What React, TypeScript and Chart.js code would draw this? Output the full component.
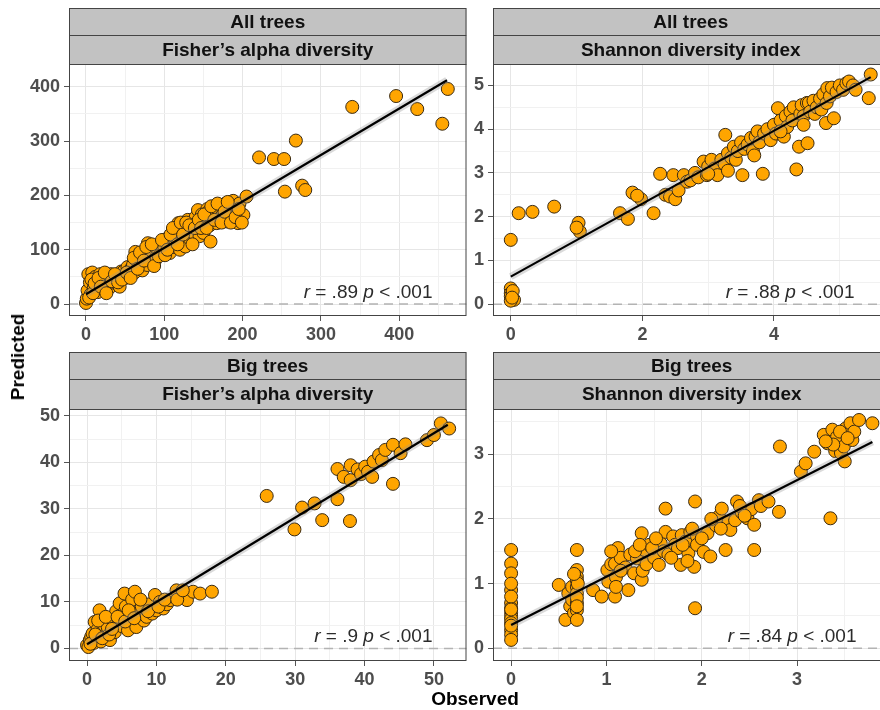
import React, { useEffect, useRef } from 'react';
import { Chart, registerables } from 'chart.js';

Chart.register(...registerables);

const FONT = 'Arial, "Liberation Sans", Helvetica, sans-serif';

// ---------- DATA ----------
const stripTop = ['All trees', 'All trees', 'Big trees', 'Big trees'];
const stripBottom = ["Fisher\u2019s alpha diversity", 'Shannon diversity index', "Fisher\u2019s alpha diversity", 'Shannon diversity index'];
const rValues = ['.89', '.88', '.9', '.84'];
const pTexts = ['< .001', '< .001', '< .001', '< .001'];

// All trees, Fisher's alpha: [observed, predicted]
const allFisherPoints: [number, number][] = [
  [0, 2], [1, 10], [2, 25], [3, 55], [5, 40], [6, 18], [8, 58], [10, 30], [12, 50], [14, 35], [15, 22], [18, 55],
  [20, 45], [22, 28], [25, 40], [28, 52], [30, 30], [32, 55], [35, 44], [38, 38], [40, 50], [43, 32], [45, 60],
  [48, 60], [50, 48], [53, 68], [55, 55], [58, 66], [60, 72], [62, 58], [63, 96], [65, 80], [67, 87], [70, 75],
  [72, 62], [75, 90], [78, 72], [79, 112], [80, 100], [82, 85], [85, 95], [88, 80], [90, 87], [92, 100], [95, 109],
  [98, 92], [100, 105], [103, 120], [105, 115], [107, 94], [110, 125], [112, 105], [114, 140], [116, 131],
  [118, 149], [120, 100], [122, 118], [125, 140], [127, 106], [129, 136], [130, 155], [133, 120], [135, 150],
  [138, 130], [140, 160], [142, 142], [143, 173], [145, 125], [148, 165], [150, 131], [152, 150], [155, 175],
  [156, 170], [158, 145], [159, 115], [162, 160], [165, 178], [167, 149], [169, 173], [172, 160], [175, 165],
  [178, 185], [180, 152], [182, 170], [184, 182], [186, 160], [188, 190], [190, 175], [193, 167], [194, 149],
  [196, 185], [198, 160], [201, 164], [205, 198],
  [4, 12], [7, 45], [9, 20], [11, 38], [16, 48], [19, 32], [24, 58], [26, 20], [33, 42], [37, 55], [41, 40],
  [46, 45], [52, 58], [57, 48], [61, 85], [66, 65], [69, 95], [74, 80], [77, 105], [84, 110], [87, 70], [93, 88],
  [97, 118], [101, 90], [104, 100], [108, 128], [111, 140], [117, 110], [121, 150], [124, 128], [128, 150],
  [132, 145], [136, 110], [139, 140], [144, 155], [147, 140], [151, 165], [154, 140], [160, 180], [164, 155],
  [168, 185], [173, 150], [177, 170], [181, 188], [185, 150], [191, 160], [195, 175], [199, 150],
  [221, 270], [240, 267], [253, 267], [268, 301], [254, 207], [276, 218], [280, 210],
  [340, 363], [396, 383], [423, 359], [455, 332], [462, 396],
];
const allFisherFitX = [0, 461];
const allFisherFitY = [18, 412];

// All trees, Shannon index
const allShannonPoints: [number, number][] = [
  [0, 1.47], [0, 0.36], [0, 0.25], [0, 0.18], [0.05, 0.1], [0, 0.08], [0.03, 0.3], [0.02, 0.15],
  [0.12, 2.08], [0.33, 2.11], [0.66, 2.23], [1.03, 1.86], [1.05, 1.66], [1.0, 1.75],
  [1.66, 2.08], [1.78, 1.95], [1.85, 2.55], [1.98, 2.4], [1.92, 2.48], [2.17, 2.08],
  [2.27, 2.98], [2.35, 2.5], [2.42, 2.46], [2.47, 2.95], [2.5, 2.4], [2.55, 2.6], [2.63, 2.95], [2.68, 2.8],
  [2.73, 2.83], [2.8, 3.0], [2.85, 2.9], [2.93, 3.26], [2.98, 2.95], [3.0, 3.15], [3.05, 3.3], [3.1, 3.1],
  [3.14, 2.95], [3.2, 3.3], [3.26, 3.87], [3.25, 3.2], [3.3, 3.45], [3.35, 3.35], [3.39, 3.6], [3.42, 3.3],
  [3.45, 3.5], [3.5, 3.7], [3.52, 2.95], [3.55, 3.55], [3.6, 3.65], [3.65, 3.8], [3.68, 3.5], [3.72, 3.83],
  [3.75, 3.95], [3.78, 3.7], [3.83, 2.98], [3.85, 3.9], [3.9, 4.0], [3.95, 3.75], [4.0, 4.1], [4.03, 3.9],
  [4.06, 4.48], [4.1, 4.2], [4.15, 3.83], [4.18, 4.3], [4.2, 4.05], [4.25, 4.4], [4.28, 4.2], [4.3, 4.5],
  [4.34, 3.08], [4.38, 3.6], [4.4, 4.35], [4.42, 4.55], [4.45, 4.3], [4.5, 4.6], [4.51, 3.68], [4.53, 4.6],
  [4.55, 4.4], [4.6, 4.65], [4.62, 4.35], [4.65, 4.5], [4.7, 4.7], [4.72, 4.45], [4.75, 4.8], [4.79, 4.14],
  [4.8, 4.6], [4.81, 4.94], [4.85, 4.75], [4.88, 4.95], [4.91, 4.25], [4.95, 4.85], [5.0, 5.0], [5.05, 4.9],
  [5.1, 5.05], [5.14, 5.09], [5.2, 5.0], [5.24, 4.9], [5.44, 4.71], [5.47, 5.25],
  [3.0, 2.98], [3.3, 3.05], [3.7, 3.4], [4.1, 3.95], [4.45, 4.1],
];
const allShannonFitX = [0, 5.47];
const allShannonFitY = [0.63, 5.19];

// Big trees, Fisher's alpha
const bigFisherPoints: [number, number][] = [
  [0, 0.7], [0.2, 0.3], [0.4, 1.8], [0.6, 2.5], [0.8, 3.2], [1.0, 1.2], [1.1, 5.7], [1.3, 2.0], [1.5, 4.0],
  [1.8, 8.2], [1.9, 3.0], [2.0, 1.5], [2.3, 3.6], [2.5, 5.0], [2.8, 2.5], [3.0, 4.5], [3.3, 1.8], [3.5, 6.5],
  [3.8, 6.1], [4.0, 3.5], [4.2, 8.0], [4.5, 5.2], [4.7, 9.7], [5.0, 4.8], [5.2, 7.5], [5.4, 11.8], [5.6, 9.0],
  [5.9, 3.9], [6.2, 6.5], [6.5, 10.5], [6.9, 12.2], [7.1, 4.6], [7.4, 8.0], [7.9, 9.0], [8.2, 6.0], [8.6, 6.8],
  [9.0, 9.5], [9.4, 7.5], [9.8, 11.5], [10.0, 8.2], [10.5, 10.0], [11.0, 8.6], [11.5, 9.5], [12.0, 10.4],
  [12.9, 12.5], [13.5, 11.0], [14.1, 12.2], [14.4, 10.4], [15.3, 12.2], [16.3, 11.8], [18.0, 12.2],
  [0.5, 1.0], [1.2, 3.0], [1.6, 6.0], [2.2, 2.2], [2.7, 6.8], [3.2, 3.0], [3.6, 4.2], [4.4, 6.8], [5.5, 5.8],
  [6.0, 8.2], [6.8, 6.5], [7.7, 10.5], [8.8, 8.0], [10.3, 9.0], [11.2, 10.5], [13.0, 10.5], [13.8, 12.5],
  [25.9, 32.8], [29.9, 25.6], [31.0, 30.3], [32.8, 31.2], [33.9, 27.6], [36.1, 32.1], [37.9, 27.4],
  [36.1, 38.6], [37.0, 36.9], [38.0, 39.4], [38.0, 36.2], [39.0, 38.5], [39.5, 37.5], [40.1, 39.1],
  [40.5, 38.0], [41.1, 36.9], [41.3, 40.2], [42.1, 41.6], [42.5, 40.5], [43.0, 42.7], [44.1, 43.8],
  [44.1, 35.4], [45.2, 42.0], [45.9, 43.9], [49.0, 44.8], [50.0, 45.9], [51.0, 48.4], [52.2, 47.3],
];
const bigFisherFitX = [0, 52];
const bigFisherFitY = [0.9, 48.1];

// Big trees, Shannon index
const bigShannonPoints: [number, number][] = [
  [0, 1.52], [0, 1.31], [0, 1.16], [0, 0.9], [0, 0.7], [0, 0.62], [0, 0.55], [0, 0.49], [0, 0.45], [0, 0.39],
  [0, 0.28], [0, 0.21], [0, 0.13], [0, 0.8], [0, 1.0], [0, 0.35], [0, 0.6],
  [0.5, 0.98], [0.57, 0.44], [0.6, 0.85], [0.62, 0.65], [0.64, 0.75], [0.64, 0.95], [0.66, 0.55], [0.69, 1.52],
  [0.69, 1.21], [0.69, 1.11], [0.69, 1.05], [0.69, 0.95], [0.69, 0.85], [0.69, 0.7], [0.69, 0.59], [0.69, 0.44],
  [0.7, 1.0], [0.69, 0.78], [0.69, 0.65], [0.66, 1.15],
  [0.86, 0.9], [0.95, 0.8], [1.01, 1.21], [1.02, 1.03], [1.05, 1.3], [1.09, 0.8], [1.09, 1.47], [1.09, 1.31],
  [1.1, 1.1], [1.12, 1.55], [1.15, 1.4], [1.2, 1.25], [1.23, 0.9], [1.25, 1.45], [1.29, 1.16], [1.32, 1.39],
  [1.37, 1.06], [1.37, 1.78], [1.38, 1.2], [1.4, 1.52], [1.42, 1.3], [1.45, 1.6], [1.5, 1.4], [1.55, 1.29],
  [1.57, 1.62], [1.6, 1.5], [1.62, 2.16], [1.62, 1.8], [1.65, 1.45], [1.7, 1.73], [1.72, 1.6], [1.75, 1.55],
  [1.78, 1.29], [1.79, 1.75], [1.83, 1.65], [1.86, 1.47], [1.88, 1.8], [1.92, 1.26], [1.93, 2.27], [1.93, 0.62],
  [1.95, 1.73], [1.95, 1.6], [2.02, 1.49], [2.06, 1.78], [2.09, 1.42], [2.15, 1.9], [2.18, 2.04], [2.21, 2.16],
  [2.25, 1.52], [2.28, 1.95], [2.3, 1.83], [2.35, 1.98], [2.37, 2.27], [2.42, 2.1], [2.48, 2.01], [2.52, 2.15],
  [2.55, 1.91], [2.55, 1.52], [2.6, 2.29], [2.62, 2.2], [2.7, 2.27], [2.81, 2.11], [2.82, 3.12],
  [1.05, 1.5], [1.1, 0.95], [1.15, 1.2], [1.3, 1.5], [1.35, 1.6], [1.48, 1.55], [1.52, 1.7], [1.68, 1.4],
  [1.8, 1.6], [1.85, 1.35], [1.9, 1.85], [2.0, 1.7], [2.1, 2.0], [2.2, 1.85], [2.4, 2.2], [2.45, 2.05],
  [3.04, 2.73], [3.09, 2.86], [3.18, 3.04], [3.28, 3.3], [3.32, 3.17], [3.35, 2.01], [3.37, 3.38], [3.4, 3.05],
  [3.42, 3.27], [3.46, 3.02], [3.49, 3.12], [3.5, 2.89], [3.51, 3.4], [3.56, 3.48], [3.58, 3.22], [3.6, 3.35],
  [3.65, 3.53], [3.79, 3.48], [3.45, 3.35], [3.38, 3.15], [3.53, 3.25], [3.3, 3.2],
];
const bigShannonFitX = [0, 3.79];
const bigShannonFitY = [0.36, 3.19];

// axis ranges and ticks
const xRanges: [number, number][] = [[-21.7, 485.9], [-0.27, 5.74], [-2.6, 54.7], [-0.19, 3.98]];
const yRanges: [number, number][] = [[-22, 442], [-0.27, 5.49], [-2.7, 51.5], [-0.196, 3.7]];
const xMajor = [[0, 100, 200, 300, 400], [0, 2, 4], [0, 10, 20, 30, 40, 50], [0, 1, 2, 3]];
const xMinor = [[50, 150, 250, 350, 450], [1, 3, 5], [5, 15, 25, 35, 45], [0.5, 1.5, 2.5, 3.5]];
const yMajor = [[0, 100, 200, 300, 400], [0, 1, 2, 3, 4, 5], [0, 10, 20, 30, 40, 50], [0, 1, 2, 3]];
const yMinor = [[50, 150, 250, 350], [0.5, 1.5, 2.5, 3.5, 4.5], [5, 15, 25, 35, 45], [0.5, 1.5, 2.5, 3.5]];

const pointSets = [allFisherPoints, allShannonPoints, bigFisherPoints, bigShannonPoints];
const fitXs = [allFisherFitX, allShannonFitX, bigFisherFitX, bigShannonFitX];
const fitYs = [allFisherFitY, allShannonFitY, bigFisherFitY, bigShannonFitY];

// ---------- LAYOUT ----------
const panelBoxes = [
  { left: 10, top: 8, width: 464, height: 338, yAxisW: 59, padTop: 56 },
  { left: 445, top: 8, width: 451, height: 338, yAxisW: 48, padTop: 56 },
  { left: 10, top: 352, width: 464, height: 339, yAxisW: 59, padTop: 57 },
  { left: 445, top: 352, width: 453, height: 339, yAxisW: 48, padTop: 57 },
];

const panelPlugin = {
  id: 'panelDeco',
  beforeDatasetsDraw(chart: any) {
    const { ctx, chartArea: a, scales } = chart;
    const y0 = scales.y.getPixelForValue(0);
    ctx.save();
    ctx.beginPath();
    ctx.rect(a.left, a.top, a.right - a.left, a.bottom - a.top);
    ctx.clip();
    ctx.strokeStyle = '#b3b3b3';
    ctx.lineWidth = 1.5;
    ctx.setLineDash([9, 6]);
    ctx.beginPath();
    ctx.moveTo(a.left, y0);
    ctx.lineTo(a.right, y0);
    ctx.stroke();
    ctx.restore();
  },
  afterDraw(chart: any, _args: any, opts: any) {
    const { ctx, chartArea: a, scales } = chart;
    ctx.save();
    // frame
    ctx.strokeStyle = '#444';
    ctx.lineWidth = 1;
    ctx.strokeRect(a.left + 0.5, a.top + 0.5, a.right - a.left - 1, a.bottom - a.top - 1);
    // strips
    const pad = opts.padTop;
    const h1 = Math.floor(pad / 2) - 1;
    const rows = [
      { y: a.top - pad, h: h1, text: opts.top },
      { y: a.top - pad + h1, h: pad - h1, text: opts.bottom },
    ];
    rows.forEach((r) => {
      ctx.fillStyle = '#c2c2c2';
      ctx.fillRect(a.left, r.y, a.right - a.left, r.h);
      ctx.strokeStyle = '#444';
      ctx.strokeRect(a.left + 0.5, r.y + 0.5, a.right - a.left - 1, r.h);
      ctx.fillStyle = '#111';
      ctx.font = `bold 19px ${FONT}`;
      ctx.textAlign = 'center';
      ctx.textBaseline = 'middle';
      ctx.fillText(r.text, (a.left + a.right) / 2, r.y + r.h / 2 + 1);
    });
    // annotation
    const parts = [
      { t: 'r', it: true },
      { t: ' = ' + opts.r + ' ', it: false },
      { t: 'p', it: true },
      { t: ' ' + opts.p, it: false },
    ];
    const fontOf = (it: boolean) => `${it ? 'italic ' : ''}19px ${FONT}`;
    let total = 0;
    parts.forEach((p) => {
      ctx.font = fontOf(p.it);
      total += ctx.measureText(p.t).width;
    });
    let x = a.right - 34 - total;
    const yb = scales.y.getPixelForValue(0) - 6;
    ctx.fillStyle = '#2b2b2b';
    ctx.textAlign = 'left';
    ctx.textBaseline = 'alphabetic';
    parts.forEach((p) => {
      ctx.font = fontOf(p.it);
      ctx.fillText(p.t, x, yb);
      x += ctx.measureText(p.t).width;
    });
    ctx.restore();
  },
};

function makeAxis(i: number, axis: 'x' | 'y', box: any) {
  const major = axis === 'x' ? xMajor[i] : yMajor[i];
  const minor = axis === 'x' ? xMinor[i] : yMinor[i];
  const range = axis === 'x' ? xRanges[i] : yRanges[i];
  const all = [...major, ...minor].filter((v) => v >= range[0] && v <= range[1]).sort((a, b) => a - b);
  const isMajor = (v: number) => major.includes(v);
  return {
    type: 'linear',
    min: range[0],
    max: range[1],
    afterBuildTicks: (s: any) => {
      s.ticks = all.map((v) => ({ value: v }));
    },
    afterFit: (s: any) => {
      if (axis === 'x') s.height = 30;
      else s.width = box.yAxisW;
      s.paddingLeft = 0;
      s.paddingRight = 0;
      s.paddingTop = 0;
      s.paddingBottom = 0;
    },
    border: { display: false },
    grid: {
      color: (c: any) => (c.tick && isMajor(c.tick.value) ? '#e6e6e6' : '#f1f1f1'),
      tickColor: (c: any) => (c.tick && isMajor(c.tick.value) ? '#555' : 'rgba(0,0,0,0)'),
      lineWidth: 1,
      drawTicks: true,
      tickLength: 5,
    },
    ticks: {
      autoSkip: false,
      maxRotation: 0,
      minRotation: 0,
      padding: axis === 'x' ? 3 : 4,
      color: '#4d4d4d',
      font: { family: FONT, size: 18, weight: 'bold' },
      callback: (v: any) => (isMajor(v) ? String(v) : ''),
    },
  };
}

function Panel({ i }: { i: number }) {
  const ref = useRef<HTMLCanvasElement>(null);
  const box = panelBoxes[i];
  useEffect(() => {
    const pts = pointSets[i].map(([x, y]) => ({ x, y }));
    const fit = fitXs[i].map((x, k) => ({ x, y: fitYs[i][k] }));
    const chart = new Chart(ref.current as HTMLCanvasElement, {
      type: 'scatter',
      data: {
        datasets: [
          {
            type: 'line',
            data: fit,
            borderColor: '#000',
            borderWidth: 2.2,
            pointRadius: 0,
            order: 0,
          } as any,
          {
            type: 'line',
            data: fit,
            borderColor: 'rgba(150,150,150,0.35)',
            borderWidth: 7,
            pointRadius: 0,
            order: 1,
          } as any,
          {
            type: 'scatter',
            data: pts,
            backgroundColor: '#FFA500',
            borderColor: '#3a2a12',
            borderWidth: 1,
            pointRadius: 6.5,
            order: 2,
          },
        ],
      },
      options: {
        responsive: false,
        animation: false,
        devicePixelRatio: 1,
        layout: { padding: { top: box.padTop, right: 2, left: 0, bottom: 0 } },
        plugins: {
          legend: { display: false },
          tooltip: { enabled: false },
          panelDeco: { padTop: box.padTop, top: stripTop[i], bottom: stripBottom[i], r: rValues[i], p: pTexts[i] },
        } as any,
        scales: { x: makeAxis(i, 'x', box), y: makeAxis(i, 'y', box) } as any,
      },
      plugins: [panelPlugin],
    });
    return () => chart.destroy();
  }, []);
  return (
    <canvas
      ref={ref}
      width={box.width}
      height={box.height}
      style={{ position: 'absolute', left: box.left, top: box.top, width: box.width, height: box.height }}
    />
  );
}

export default function App() {
  return (
    <div
      style={{
        position: 'absolute',
        left: 0,
        top: 0,
        width: 880,
        height: 710,
        overflow: 'hidden',
        background: '#fff',
        fontFamily: FONT,
      }}
    >
      {[0, 1, 2, 3].map((i) => (
        <Panel key={i} i={i} />
      ))}
      <div
        style={{
          position: 'absolute',
          left: 18,
          top: 357,
          transform: 'translate(-50%, -50%) rotate(-90deg)',
          fontWeight: 'bold',
          fontSize: 19,
          color: '#000',
          whiteSpace: 'nowrap',
        }}
      >
        Predicted
      </div>
      <div
        style={{
          position: 'absolute',
          left: 475,
          top: 699,
          transform: 'translate(-50%, -50%)',
          fontWeight: 'bold',
          fontSize: 19,
          color: '#000',
          whiteSpace: 'nowrap',
        }}
      >
        Observed
      </div>
    </div>
  );
}
